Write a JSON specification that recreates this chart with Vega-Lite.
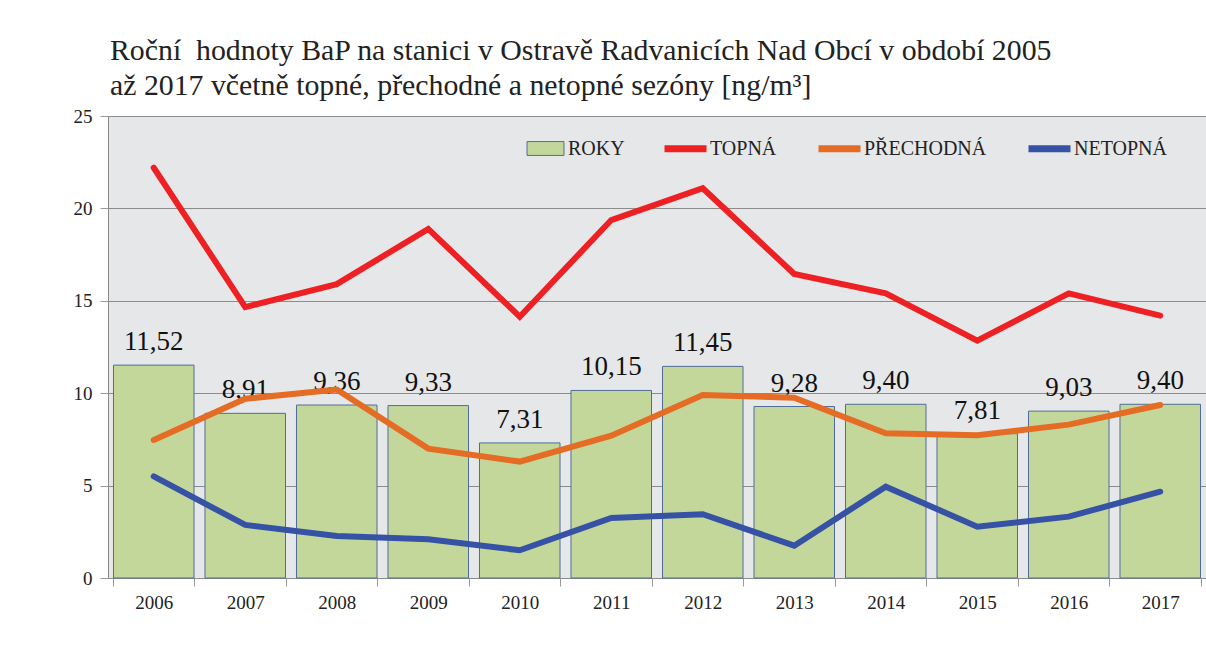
{
  "$schema": "https://vega.github.io/schema/vega-lite/v6.json",
  "autosize": {"type": "none"},
  "width": 1098,
  "height": 462,
  "padding": {"left": 108, "top": 116, "right": 0, "bottom": 94},
  "background": "white",
  "title": {
    "text": ["Roční\u00a0 hodnoty BaP na stanici v Ostravě Radvanicích Nad Obcí v období 2005", "až 2017 včetně topné, přechodné a netopné sezóny [ng/m³]"],
    "anchor": "start",
    "frame": "group",
    "dx": 2,
    "offset": 6,
    "font": "Liberation Serif",
    "fontSize": 29.8,
    "fontWeight": "normal",
    "color": "#222222",
    "lineHeight": 35
  },
  "datasets": {
    "roky": [
      {"rok": "2006", "serie": "ROKY", "hodnota": 11.52},
      {"rok": "2007", "serie": "ROKY", "hodnota": 8.91},
      {"rok": "2008", "serie": "ROKY", "hodnota": 9.36},
      {"rok": "2009", "serie": "ROKY", "hodnota": 9.33},
      {"rok": "2010", "serie": "ROKY", "hodnota": 7.31},
      {"rok": "2011", "serie": "ROKY", "hodnota": 10.15},
      {"rok": "2012", "serie": "ROKY", "hodnota": 11.45},
      {"rok": "2013", "serie": "ROKY", "hodnota": 9.28},
      {"rok": "2014", "serie": "ROKY", "hodnota": 9.40},
      {"rok": "2015", "serie": "ROKY", "hodnota": 7.81},
      {"rok": "2016", "serie": "ROKY", "hodnota": 9.03},
      {"rok": "2017", "serie": "ROKY", "hodnota": 9.40}
    ],
    "sezony": [
      {"rok": "2006", "serie": "TOPNÁ", "hodnota": 22.2},
      {"rok": "2007", "serie": "TOPNÁ", "hodnota": 14.66},
      {"rok": "2008", "serie": "TOPNÁ", "hodnota": 15.9},
      {"rok": "2009", "serie": "TOPNÁ", "hodnota": 18.89},
      {"rok": "2010", "serie": "TOPNÁ", "hodnota": 14.14},
      {"rok": "2011", "serie": "TOPNÁ", "hodnota": 19.37},
      {"rok": "2012", "serie": "TOPNÁ", "hodnota": 21.09},
      {"rok": "2013", "serie": "TOPNÁ", "hodnota": 16.45},
      {"rok": "2014", "serie": "TOPNÁ", "hodnota": 15.4},
      {"rok": "2015", "serie": "TOPNÁ", "hodnota": 12.84},
      {"rok": "2016", "serie": "TOPNÁ", "hodnota": 15.4},
      {"rok": "2017", "serie": "TOPNÁ", "hodnota": 14.2},
      {"rok": "2006", "serie": "PŘECHODNÁ", "hodnota": 7.47},
      {"rok": "2007", "serie": "PŘECHODNÁ", "hodnota": 9.7},
      {"rok": "2008", "serie": "PŘECHODNÁ", "hodnota": 10.2},
      {"rok": "2009", "serie": "PŘECHODNÁ", "hodnota": 7.0},
      {"rok": "2010", "serie": "PŘECHODNÁ", "hodnota": 6.3},
      {"rok": "2011", "serie": "PŘECHODNÁ", "hodnota": 7.7},
      {"rok": "2012", "serie": "PŘECHODNÁ", "hodnota": 9.9},
      {"rok": "2013", "serie": "PŘECHODNÁ", "hodnota": 9.76},
      {"rok": "2014", "serie": "PŘECHODNÁ", "hodnota": 7.83},
      {"rok": "2015", "serie": "PŘECHODNÁ", "hodnota": 7.72},
      {"rok": "2016", "serie": "PŘECHODNÁ", "hodnota": 8.3},
      {"rok": "2017", "serie": "PŘECHODNÁ", "hodnota": 9.36},
      {"rok": "2006", "serie": "NETOPNÁ", "hodnota": 5.5},
      {"rok": "2007", "serie": "NETOPNÁ", "hodnota": 2.87},
      {"rok": "2008", "serie": "NETOPNÁ", "hodnota": 2.27},
      {"rok": "2009", "serie": "NETOPNÁ", "hodnota": 2.1},
      {"rok": "2010", "serie": "NETOPNÁ", "hodnota": 1.5},
      {"rok": "2011", "serie": "NETOPNÁ", "hodnota": 3.25},
      {"rok": "2012", "serie": "NETOPNÁ", "hodnota": 3.45},
      {"rok": "2013", "serie": "NETOPNÁ", "hodnota": 1.75},
      {"rok": "2014", "serie": "NETOPNÁ", "hodnota": 4.94},
      {"rok": "2015", "serie": "NETOPNÁ", "hodnota": 2.78},
      {"rok": "2016", "serie": "NETOPNÁ", "hodnota": 3.32},
      {"rok": "2017", "serie": "NETOPNÁ", "hodnota": 4.67}
    ]
  },
  "encoding": {
    "x": {
      "field": "rok",
      "type": "nominal",
      "scale": {"paddingInner": 0.12, "paddingOuter": 0.06},
      "axis": {
        "title": null,
        "labelAngle": 0,
        "tickBand": "extent",
        "tickSize": 8,
        "tickColor": "#999999",
        "domainColor": "#8c8c8c",
        "labelFont": "Liberation Serif",
        "labelFontSize": 19,
        "labelColor": "#222222",
        "labelPadding": 7
      }
    },
    "y": {
      "field": "hodnota",
      "type": "quantitative",
      "scale": {"domain": [0, 25], "nice": false},
      "axis": {
        "title": null,
        "values": [0, 5, 10, 15, 20, 25],
        "grid": true,
        "gridColor": "#8c8c8c",
        "gridOpacity": 1,
        "tickSize": 8,
        "tickColor": "#999999",
        "domainColor": "#8c8c8c",
        "labelFont": "Liberation Serif",
        "labelFontSize": 19,
        "labelColor": "#222222",
        "labelPadding": 8
      }
    }
  },
  "layer": [
    {
      "data": {"name": "roky"},
      "mark": {"type": "bar", "stroke": "#4f6d9a", "strokeWidth": 1},
      "encoding": {
        "fill": {
          "field": "serie",
          "type": "nominal",
          "scale": {"domain": ["ROKY"], "range": ["#c4d79b"]},
          "legend": {
            "title": null,
            "orient": "none",
            "direction": "horizontal",
            "legendX": 416,
            "legendY": 11,
            "padding": 0,
            "labelOffset": 1,
            "labelFont": "Liberation Serif",
            "labelFontSize": 20,
            "labelColor": "#222222",
            "symbolSize": 1764,
            "symbolType": "M-0.88,-0.33H0.88V0.33H-0.88Z",
            "symbolStrokeColor": "#4f6d9a",
            "symbolStrokeWidth": 1,
            "symbolOpacity": 1
          }
        }
      }
    },
    {
      "data": {"name": "roky"},
      "mark": {
        "type": "text",
        "baseline": "alphabetic",
        "dy": -15,
        "font": "Liberation Serif",
        "fontSize": 27,
        "color": "#111111"
      },
      "encoding": {
        "text": {"field": "hodnota", "type": "quantitative", "format": ".2f"}
      }
    },
    {
      "data": {"name": "sezony"},
      "mark": {"type": "line", "strokeWidth": 6, "strokeCap": "round", "interpolate": "linear"},
      "encoding": {
        "stroke": {
          "field": "serie",
          "type": "nominal",
          "scale": {
            "domain": ["TOPNÁ", "PŘECHODNÁ", "NETOPNÁ"],
            "range": ["#ed2024", "#e46c24", "#3652a5"]
          },
          "legend": {
            "title": null,
            "orient": "none",
            "direction": "horizontal",
            "legendX": 553,
            "legendY": 8,
            "padding": 0,
            "columnPadding": 27,
            "labelOffset": 0,
            "labelFont": "Liberation Serif",
            "labelFontSize": 20,
            "labelColor": "#222222",
            "symbolSize": 1764,
            "symbolType": "stroke",
            "symbolStrokeWidth": 7,
            "symbolOpacity": 1
          }
        }
      }
    }
  ],
  "config": {
    "view": {"fill": "#e6e7e8", "stroke": null},
    "locale": {
      "number": {"decimal": ",", "thousands": " ", "grouping": [3], "currency": ["", " Kč"]}
    }
  }
}
